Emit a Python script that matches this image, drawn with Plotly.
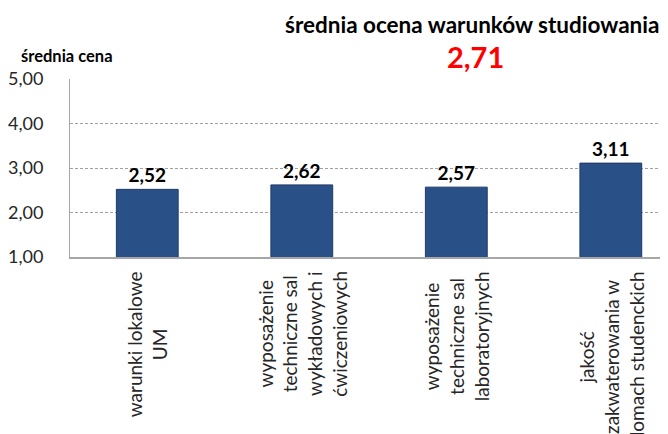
import plotly.graph_objects as go

categories = [
    "warunki lokalowe<br>UM",
    "wyposażenie<br>techniczne sal<br>wykładowych i<br>ćwiczeniowych",
    "wyposażenie<br>techniczne sal<br>laboratoryjnych",
    "jakość<br>zakwaterowania w<br>domach studenckich",
]
values = [2.52, 2.62, 2.57, 3.11]
overall_mean = 2.71
y_ticks = [1, 2, 3, 4, 5]
title_text = "średnia ocena warunków studiowania"
y_title = "średnia cena"

FONT = "Lato"
xpos = list(range(len(categories)))

# the page has an 8px body margin; the figure is sized so that it ends at the window edge
OFF = 8
W, H = 668 - OFF, 434 - OFF
l, r, t, b = 68 - OFF, 0, 79 - OFF, 434 - 257
pw, ph = W - l - r, H - t - b

def px(xp):
    return (xp - OFF - l) / pw

def py(yp):
    return (H - b - (yp - OFF)) / ph

fig = go.Figure()
fig.add_trace(go.Bar(
    x=xpos,
    y=values,
    base=0,
    width=0.4,
    marker=dict(color="#2A5088", line=dict(color="#1F3A66", width=1)),
    texttemplate="%{y:.2f}",
    textposition="outside",
    textfont=dict(family=FONT, size=19, color="#000000", weight="bold"),
    cliponaxis=False,
    showlegend=False,
))

for i, c in enumerate(categories):
    fig.add_annotation(
        x=i, xref="x", y=py(269), yref="paper",
        text=c, textangle=-90, showarrow=False,
        xanchor="center", yanchor="top", align="center",
        font=dict(family=FONT, size=19, color="#262626"),
    )

fig.add_annotation(
    x=px(471), xref="paper", y=py(25), yref="paper", text=title_text, showarrow=False,
    xanchor="center", yanchor="middle",
    font=dict(family=FONT, size=22.5, color="#000000", weight="bold"),
)
fig.add_annotation(
    x=px(475), xref="paper", y=py(57), yref="paper",
    text=f"{overall_mean:.2f}".replace(".", ","), showarrow=False,
    xanchor="center", yanchor="middle",
    font=dict(family=FONT, size=29, color="#FF0000", weight="bold"),
)
fig.add_annotation(
    x=px(17), xref="paper", y=py(56), yref="paper", text=y_title, showarrow=False,
    xanchor="left", yanchor="middle",
    font=dict(family=FONT, size=16.5, color="#000000", weight="bold"),
)
fig.add_shape(
    type="rect", xref="paper", yref="paper",
    x0=px(279), x1=1.02, y0=py(82), y1=py(0),
    fillcolor="white", line=dict(width=0), layer="above",
)

fig.update_layout(
    width=W, height=H,
    margin=dict(l=l, r=r, t=t, b=b),
    paper_bgcolor="white", plot_bgcolor="white",
    separators=",.",
    xaxis=dict(
        range=[-0.5, 3.37], showticklabels=False, showgrid=False,
        showline=True, linecolor="#A6A6A6", linewidth=2, zeroline=False,
    ),
    yaxis=dict(
        range=[1, 5], tickvals=y_ticks, tickformat=".2f",
        showgrid=True, gridcolor="#A0A0A0", griddash="3px,2px", gridwidth=1,
        showline=True, linecolor="#A6A6A6", linewidth=1, zeroline=False,
        ticklabelstandoff=22,
        tickfont=dict(family=FONT, size=18, color="#262626"),
    ),
)

fig.write_html("out.html")
